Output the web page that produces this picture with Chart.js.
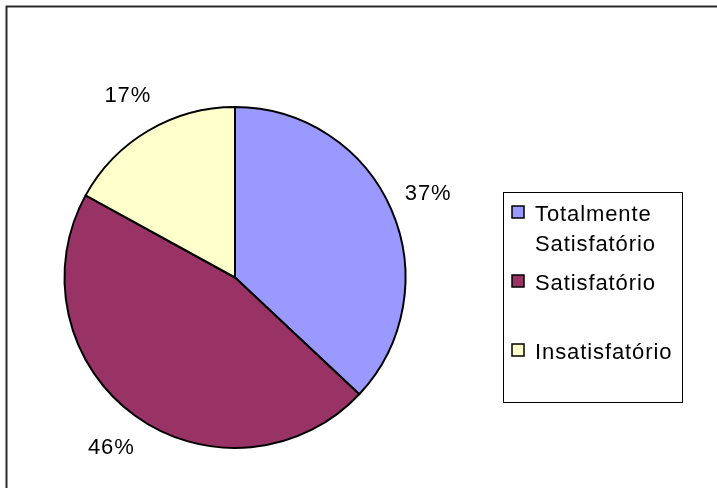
<!DOCTYPE html>
<html>
<head>
<meta charset="utf-8">
<script src="https://cdn.jsdelivr.net/npm/chart.js@4/dist/chart.umd.min.js"></script>
<style>
  html, body { margin: 0; padding: 0; background: #fff; }
  #wrap { width: 717px; height: 488px; }
</style>
</head>
<body>
<div id="wrap"><canvas id="c" width="717" height="488"></canvas></div>
<script>
const categories = ["Totalmente Satisfatório", "Satisfatório", "Insatisfatório"];
const legendLines = [["Totalmente", "Satisfatório"], ["Satisfatório"], ["Insatisfatório"]];
const values = [37, 46, 17];
const valueLabels = ["37%", "46%", "17%"];
const colors = ["#9999FF", "#993366", "#FFFFCC"];

const FONT = '22px "Liberation Sans", Arial, sans-serif';
const SPACING = '0.9px';

const framePlugin = {
  id: 'frame',
  beforeDraw(chart) {
    const ctx = chart.ctx;
    ctx.save();
    ctx.fillStyle = '#fff';
    ctx.fillRect(0, 0, chart.width, chart.height);
    ctx.strokeStyle = '#2a2a2a';
    ctx.lineWidth = 2;
    ctx.beginPath();
    ctx.moveTo(6.5, chart.height + 2);
    ctx.lineTo(6.5, 6.5);
    ctx.lineTo(chart.width + 2, 6.5);
    ctx.stroke();
    ctx.restore();
  }
};

const labelsPlugin = {
  id: 'pctLabels',
  afterDatasetsDraw(chart) {
    const ctx = chart.ctx;
    const meta = chart.getDatasetMeta(0);
    ctx.save();
    ctx.font = FONT;
    ctx.letterSpacing = SPACING;
    ctx.fillStyle = '#000';
    ctx.textAlign = 'center';
    ctx.textBaseline = 'middle';
    meta.data.forEach((arc, i) => {
      const p = arc.getProps(['x', 'y', 'startAngle', 'endAngle', 'outerRadius'], true);
      const mid = (p.startAngle + p.endAngle) / 2;
      const d = p.outerRadius + 40;
      ctx.fillText(valueLabels[i], p.x + Math.cos(mid) * d, p.y + Math.sin(mid) * d);
    });
    ctx.restore();
  }
};

const legendPlugin = {
  id: 'boxLegend',
  afterDraw(chart) {
    const ctx = chart.ctx;
    const ds = chart.data.datasets[0];
    const bx = 503.5, by = 192.5, bw = 179, bh = 210;
    ctx.save();
    ctx.strokeStyle = '#000';
    ctx.lineWidth = 1;
    ctx.strokeRect(bx, by, bw, bh);
    ctx.font = FONT;
    ctx.letterSpacing = SPACING;
    ctx.textAlign = 'left';
    ctx.textBaseline = 'alphabetic';
    const itemTops = [206, 275, 344];
    legendLines.forEach((lines, i) => {
      const sy = itemTops[i];
      ctx.fillStyle = ds.backgroundColor[i];
      ctx.fillRect(512, sy, 12, 12);
      ctx.strokeStyle = '#000';
      ctx.lineWidth = 1.5;
      ctx.strokeRect(512, sy, 12, 12);
      ctx.fillStyle = '#000';
      lines.forEach((t, k) => {
        ctx.fillText(t, 535, sy + 15 + k * 30);
      });
    });
    ctx.restore();
  }
};

new Chart(document.getElementById('c'), {
  type: 'pie',
  data: {
    labels: categories,
    datasets: [{
      data: values,
      backgroundColor: colors,
      borderColor: '#000',
      borderWidth: 2
    }]
  },
  options: {
    responsive: false,
    animation: false,
    layout: { padding: { left: 63, right: 310, top: 106, bottom: 39 } },
    plugins: {
      legend: { display: false },
      tooltip: { enabled: false }
    }
  },
  plugins: [framePlugin, labelsPlugin, legendPlugin]
});
</script>
</body>
</html>
